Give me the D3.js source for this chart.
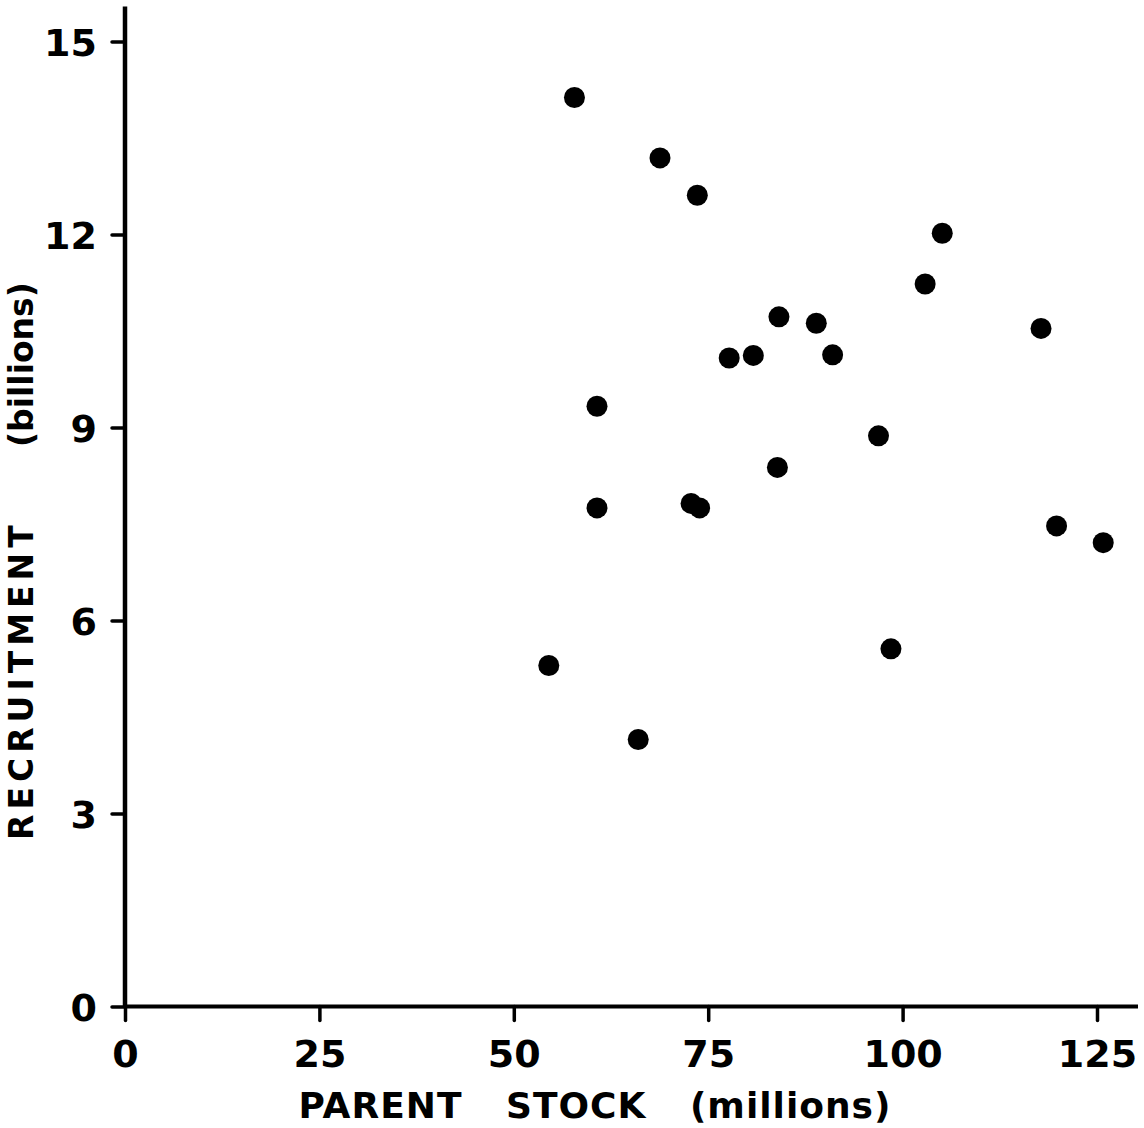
<!DOCTYPE html>
<html>
<head>
<meta charset="utf-8">
<script src="https://cdn.jsdelivr.net/npm/d3@7"></script>
<style>
  body { margin: 0; background: #fff; }
  svg { display: block; }
  .tick text { font-family: "DejaVu Sans", sans-serif; font-weight: bold; font-size: 38px; fill: #000; }
  .axis-title { font-family: "DejaVu Sans", sans-serif; font-weight: bold; fill: #000; }
</style>
</head>
<body>
<div id="wrapper"></div>
<script>
// parent stock (millions) and recruitment (billions)
const parentStock = [57.8, 68.8, 73.6, 105.1, 102.9, 84.1, 88.9, 117.8, 77.7, 80.8, 91.0,
                     60.7, 96.9, 83.9, 60.7, 72.8, 73.9, 119.8, 125.8, 54.5, 98.5, 66.0]
const recruitment = [14.13, 13.19, 12.61, 12.02, 11.23, 10.72, 10.62, 10.54, 10.08, 10.12, 10.13,
                     9.33, 8.87, 8.38, 7.75, 7.82, 7.75, 7.47, 7.21, 5.30, 5.56, 4.15]
const xTicks = [0, 25, 50, 75, 100, 125]
const yTicks = [0, 3, 6, 9, 12, 15]

const dataset = parentStock.map((d, i) => ({ stock: d, recruits: recruitment[i] }))

let dimensions = {
  width: 1144,
  height: 1128,
  margin: { top: 41.5, right: 47, bottom: 121.5, left: 125 }
}
dimensions.boundedWidth = dimensions.width - dimensions.margin.left - dimensions.margin.right
dimensions.boundedHeight = dimensions.height - dimensions.margin.top - dimensions.margin.bottom

const xScale = d3.scaleLinear()
  .domain([0, 125])
  .range([0, dimensions.boundedWidth])

const yScale = d3.scaleLinear()
  .domain([0, 15])
  .range([dimensions.boundedHeight, 0])

const svg = d3.select("#wrapper").append("svg")
  .attr("width", dimensions.width)
  .attr("height", dimensions.height)

const bounds = svg.append("g")
  .attr("transform", `translate(${dimensions.margin.left}, ${dimensions.margin.top})`)

// axes: ticks only, the long lines are drawn below so they run past the last tick
const xAxis = bounds.append("g")
  .attr("transform", `translate(0, ${dimensions.boundedHeight})`)
  .call(d3.axisBottom(xScale).tickValues(xTicks).tickSize(14).tickSizeOuter(0).tickPadding(24))
const yAxis = bounds.append("g")
  .call(d3.axisLeft(yScale).tickValues(yTicks).tickSize(13).tickSizeOuter(0).tickPadding(15))

;[xAxis, yAxis].forEach(ax => {
  ax.select(".domain").remove()
  ax.selectAll(".tick line").attr("stroke", "#000").attr("stroke-width", 3.5).attr("stroke-linecap", "round")
})
yAxis.selectAll(".tick text").attr("dy", "0.38em")
xAxis.selectAll(".tick text").attr("dy", "0.6em")

bounds.append("line")
  .attr("x1", xScale(0)).attr("x2", dimensions.boundedWidth + 41)
  .attr("y1", yScale(0)).attr("y2", yScale(0))
  .attr("stroke", "#000").attr("stroke-width", 4)
bounds.append("line")
  .attr("x1", xScale(0)).attr("x2", xScale(0))
  .attr("y1", yScale(0)).attr("y2", -35)
  .attr("stroke", "#000").attr("stroke-width", 4.5)

// points
bounds.selectAll("circle")
  .data(dataset)
  .join("circle")
  .attr("cx", d => xScale(d.stock))
  .attr("cy", d => yScale(d.recruits))
  .attr("r", 10.5)
  .attr("fill", "#000")

// axis titles
svg.append("text")
  .attr("class", "axis-title")
  .attr("x", 595)
  .attr("y", 1118)
  .attr("text-anchor", "middle")
  .style("font-size", "36px")
  .style("letter-spacing", "1px")
  .style("word-spacing", "30px")
  .text("PARENT STOCK (millions)")

svg.append("text")
  .attr("class", "axis-title")
  .attr("transform", "translate(33, 840) rotate(-90)")
  .style("font-size", "33px")
  .style("letter-spacing", "5px")
  .text("RECRUITMENT")

svg.append("text")
  .attr("class", "axis-title")
  .attr("transform", "translate(33, 447) rotate(-90)")
  .style("font-size", "33px")
  .text("(billions)")
</script>
</body>
</html>
